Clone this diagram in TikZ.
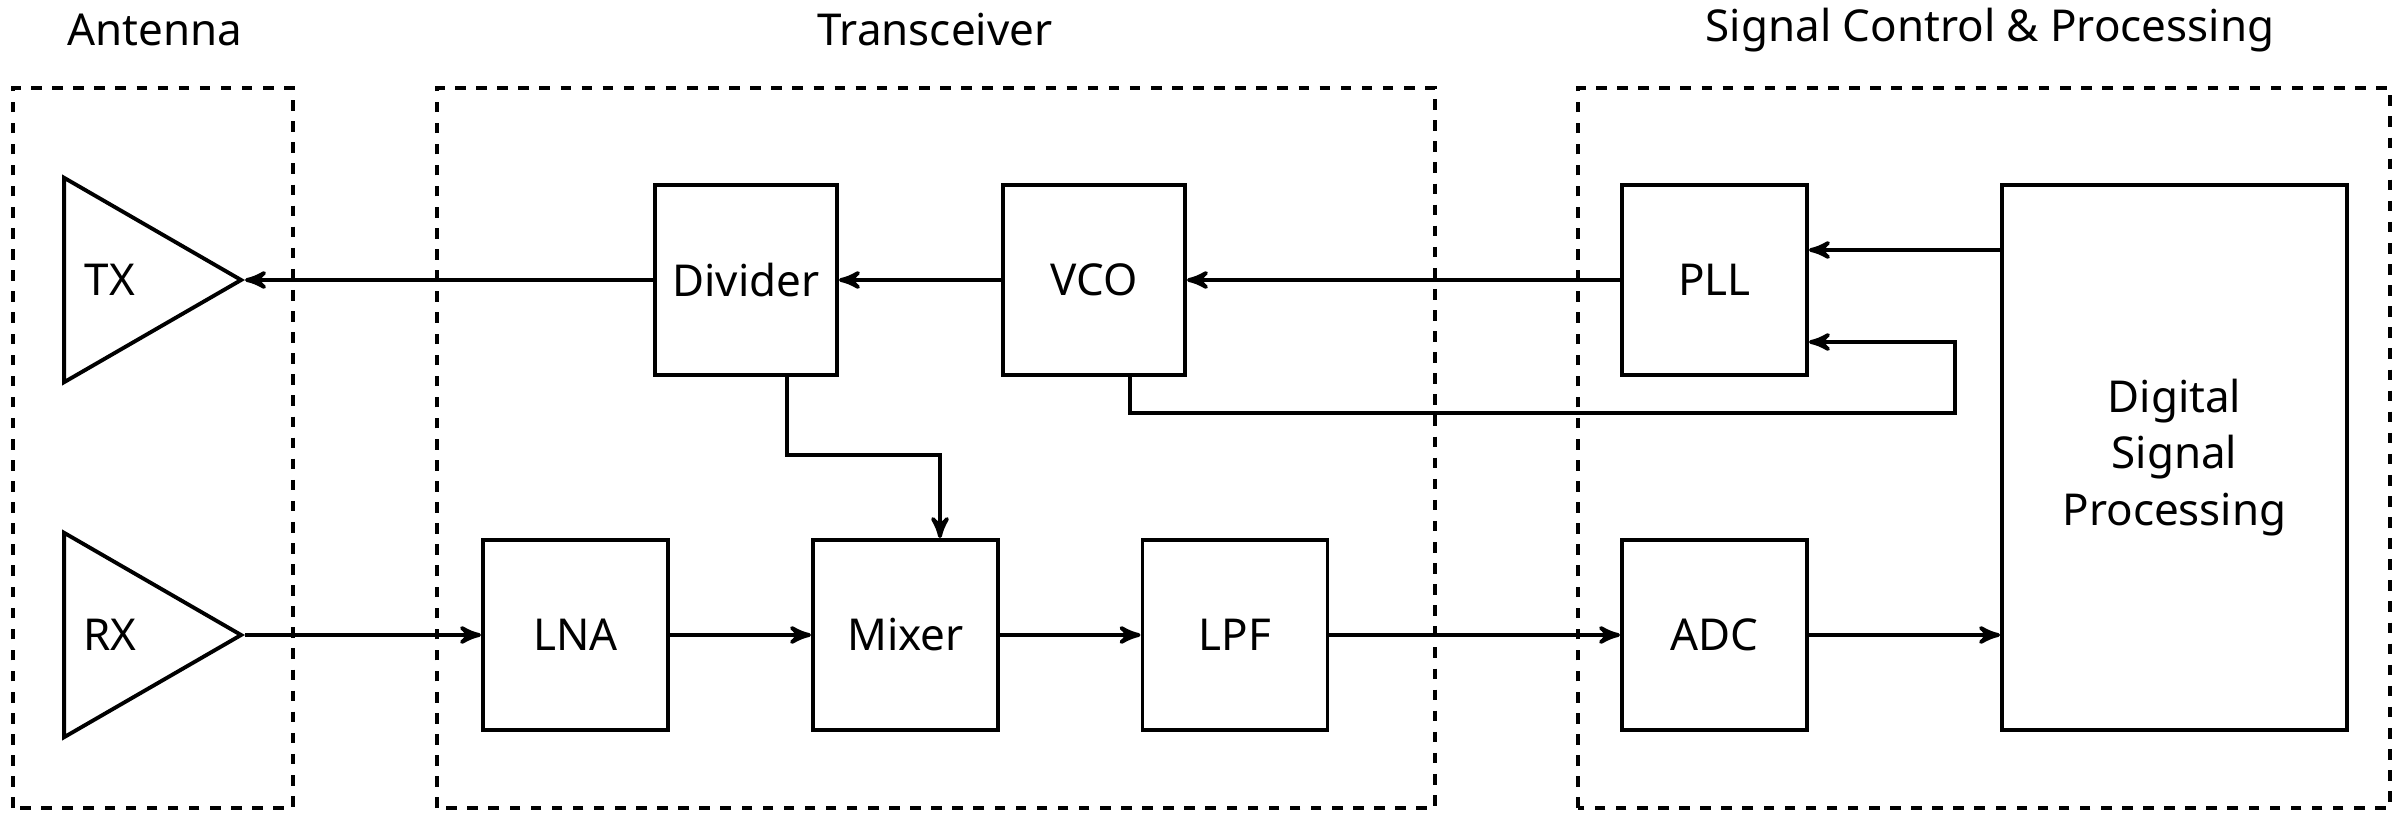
\documentclass[tikz,border=0pt]{standalone}
\usepackage{fontspec}
\setmainfont{Noto Sans}
\usetikzlibrary{arrows,shapes.geometric}
\tikzset{
  blk/.style = {draw=black, line width=1.1pt, align=center, inner sep=0pt,
    font=\fontsize{12.5}{16}\selectfont},
  grp/.style = {draw=black, line width=1.1pt, dashed},
  amp/.style = {draw=black, line width=1.1pt, isosceles triangle, isosceles triangle apex angle=60,
    minimum height=1.77cm, inner sep=0pt},
  ttl/.style = {font=\fontsize{12.5}{16}\selectfont}
}
\begin{document}
\begin{tikzpicture}[x=1cm,y=1cm,>=stealth',line width=1.1pt]
\useasboundingbox (0,0) rectangle (24.01,8.28);
% groups
\draw[grp] (0.13,0.20) rectangle (2.93,7.40);
\draw[grp] (4.37,0.20) rectangle (14.35,7.40);
\draw[grp] (15.78,0.20) rectangle (23.90,7.40);
\node[ttl] (tA) at (1.55,7.98) {Antenna};
\node[ttl] (tT) at (9.35,7.98) {Transceiver};
\node[ttl] (tS) at (19.90,7.98) {Signal Control \& Processing};
% antenna
\node[amp, anchor=apex] (tx) at (2.45,5.48) {};
\node[ttl] (txl) at (1.10,5.48) {TX};
\node[amp, anchor=apex] (rx) at (2.45,1.93) {};
\node[ttl] (rxl) at (1.10,1.93) {RX};
% blocks
\node[blk, minimum width=1.82cm, minimum height=1.90cm] (div) at (7.46,5.48) {Divider};
\node[blk, minimum width=1.82cm, minimum height=1.90cm] (vco) at (10.94,5.48) {VCO};
\node[blk, minimum width=1.85cm, minimum height=1.90cm] (pll) at (17.145,5.48) {PLL};
\node[blk, minimum width=3.45cm, minimum height=5.45cm] (dsp) at (21.745,3.705) {Digital\\Signal\\Processing};
\node[blk, minimum width=1.85cm, minimum height=1.90cm] (lna) at (5.755,1.93) {LNA};
\node[blk, minimum width=1.85cm, minimum height=1.90cm] (mix) at (9.055,1.93) {Mixer};
\node[blk, minimum width=1.85cm, minimum height=1.90cm] (lpf) at (12.35,1.93) {LPF};
\node[blk, minimum width=1.85cm, minimum height=1.90cm] (adc) at (17.145,1.93) {ADC};
% connections
\draw[->] (pll.west) -- (vco.east);
\draw[->] (vco.west) -- (div.east);
\draw[->] (div.west) -- (tx.apex);
\draw[->] (dsp.west |- 0,5.78) -- (pll.east |- 0,5.78);
\draw[->] (vco.south -| 11.30,0) |- (19.55,4.15) |- (pll.east |- 0,4.86);
\draw[->] (div.south -| 7.87,0) |- (9.40,3.73) -- (mix.north -| 9.40,0);
\draw[->] (rx.apex) -- (lna.west);
\draw[->] (lna.east) -- (mix.west);
\draw[->] (mix.east) -- (lpf.west);
\draw[->] (lpf.east) -- (adc.west);
\draw[->] (adc.east) -- (dsp.west |- 0,1.93);
\end{tikzpicture}
\end{document}
